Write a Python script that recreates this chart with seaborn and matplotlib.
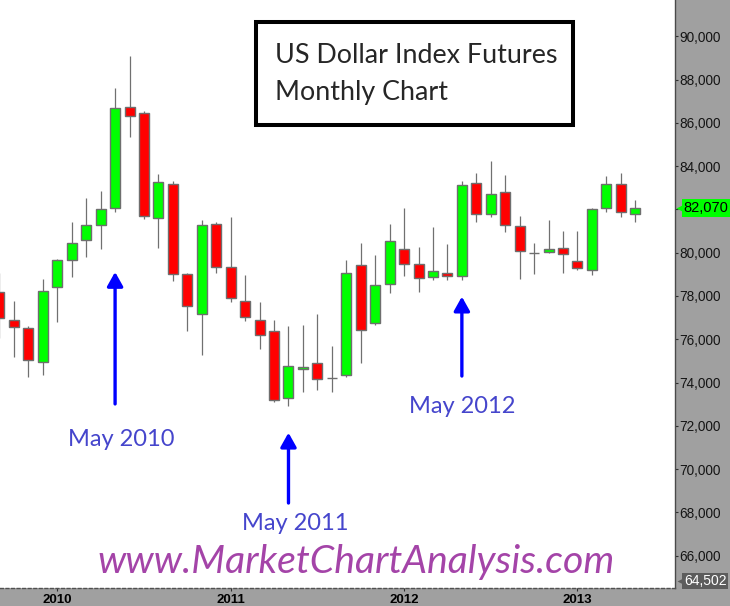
import numpy as np
import pandas as pd
import seaborn as sns
import matplotlib.pyplot as plt
from matplotlib import transforms
from matplotlib.patches import Rectangle

# 月份：2009年9月 ~ 2013年5月
months = pd.period_range('2009-09', '2013-05', freq='M')

opens = [78200, 76910, 76500, 74930, 78430, 79680, 80600, 81290, 82070, 86730,
         86450, 81610, 83180, 79030, 77190, 81340, 79360, 77790, 76910, 76360,
         73270, 74610, 74890, 74210, 74330, 79450, 76730, 78570, 80190, 79490,
         78900, 79080, 78940, 83230, 81800, 82810, 81250, 80010, 80050, 80230,
         79630, 79220, 82070, 83180, 81800]
highs = [79080, 77760, 76590, 78800, 79720, 81430, 82540, 82860, 87600, 89080,
         86540, 83640, 83320, 79080, 81520, 81430, 81670, 78990, 77700, 76910,
         76590, 76650, 77190, 75670, 79680, 80460, 79910, 81340, 82070, 80280,
         81200, 80420, 83320, 83690, 84240, 83600, 81710, 80460, 81520, 81010,
         81010, 82070, 83550, 83690, 82440]
lows = [76080, 75160, 74250, 74350, 76790, 78860, 79780, 80150, 81900, 85360,
        81580, 80200, 78680, 76370, 75270, 79050, 77710, 76840, 75550, 73100,
        72920, 73560, 73660, 73560, 74240, 74900, 76650, 78130, 78910, 78170,
        78720, 78720, 78720, 81440, 81670, 80980, 78770, 79000, 79970, 79050,
        79190, 78960, 81860, 81670, 81410]
closes = [76960, 76550, 75020, 78250, 79680, 80460, 81290, 82030, 86680, 86310,
          81710, 83270, 79030, 77560, 81290, 79360, 77930, 77010, 76180, 73180,
          74750, 74700, 74150, 74210, 79080, 76410, 78530, 80550, 79490, 78850,
          79170, 78940, 83130, 81800, 82720, 81290, 80090, 80010, 80190, 79960,
          79310, 82030, 83180, 81890, 82070]

# 箭头标注：月份序号、箭头顶端、箭尾、文字基线
arrow_idx = [8, 20, 32]
arrow_tip = [79110, 71680, 77970]
arrow_tail = [73010, 68430, 74300]
label_base = [71070, 67190, 72590]
label_dx = [0.4, 0.45, 0.0]

y_low, y_high = 64502, 91682
y_ticks = list(range(66000, 90001, 2000))

df = pd.DataFrame({'open': opens, 'high': highs, 'low': lows, 'close': closes})
df['pos'] = np.arange(len(df))
df['up'] = df['close'] >= df['open']

sns.set_style('white')
plt.rcParams['font.family'] = ['Liberation Sans', 'DejaVu Sans']

fig = plt.figure(figsize=(7.3, 6.06), dpi=100, facecolor='#a0a0a0')
ax = fig.add_axes([0, 18 / 606, 675 / 730, 588 / 606])
ax.set_facecolor('white')

# 影线
ax.vlines(df['pos'], df['low'], df['high'], color='#707070', lw=0.9, zorder=1)
# 实体
body_colors = np.where(df['up'], '#00ff00', '#ff0000')
ax.bar(df['pos'], (df['close'] - df['open']).abs(),
       bottom=df[['open', 'close']].min(axis=1), width=0.69,
       color=body_colors, edgecolor='#6e6e6e', linewidth=1.0, zorder=2)

ax.set_xlim(0.035, 46.75)
ax.set_ylim(y_low, y_high)

# 年份刻度
jan_idx = [i for i, m in enumerate(months) if m.month == 1]
ax.set_xticks(jan_idx)
ax.set_xticklabels([str(months[i].year) for i in jan_idx], fontsize=9.5, fontweight='bold')
ax.tick_params(axis='x', direction='out', length=2.2, width=0.8, color='#303030',
               pad=2.3, bottom=True, labelcolor='black')

ax.yaxis.tick_right()
ax.set_yticks(y_ticks)
ax.set_yticklabels(['' if v == 82000 else f'{v:,}' for v in y_ticks], fontsize=9.8)
ax.tick_params(axis='y', direction='out', length=2.2, width=0.8, color='#303030',
               pad=1.2, right=True, labelcolor='#151515')

for side in ['left', 'top']:
    ax.spines[side].set_visible(False)
ax.spines['right'].set_color('#4a4a4a')
ax.spines['right'].set_linewidth(1.0)
ax.spines['bottom'].set_color('#505050')
ax.spines['bottom'].set_linewidth(1.0)
ax.spines['bottom'].set_linestyle((0, (2, 2)))

# 标签框
trans = transforms.blended_transform_factory(ax.transAxes, ax.transData)
last_close = closes[-1]
ax.plot([1.0126], [last_close], marker='<', ms=11, color='#00ff00', mec='none',
        transform=trans, clip_on=False, zorder=5)
ax.text(1.013, last_close, f'{last_close:,}', transform=trans, va='center', ha='left',
        fontsize=10.5, color='black', clip_on=False, zorder=6,
        bbox=dict(boxstyle='square,pad=0.12', fc='#00ff00', ec='none'))
ax.plot([1.0126], [0.012], marker='<', ms=10, color='#5c5c5c', mec='none',
        transform=ax.transAxes, clip_on=False, zorder=5)
ax.text(1.013, 0.012, f'{y_low:,}', transform=ax.transAxes, va='center', ha='left',
        fontsize=10, color='white', clip_on=False, zorder=6,
        bbox=dict(boxstyle='square,pad=0.1', fc='#5c5c5c', ec='none'))

# 标题框
ax.add_patch(Rectangle((0.3793, 0.7874), 0.4696, 0.1757, transform=ax.transAxes,
                       fc='white', ec='black', lw=2.9, zorder=4))
ax.text(0.4074, 0.8929, 'US Dollar Index Futures', transform=ax.transAxes,
        fontsize=19.4, family=['Lato', 'DejaVu Sans'], va='baseline', zorder=5)
ax.text(0.4074, 0.8299, 'Monthly Chart', transform=ax.transAxes,
        fontsize=19.4, family=['Lato', 'DejaVu Sans'], va='baseline', zorder=5)

# 箭头与文字
for i, tip, tail, base, dx in zip(arrow_idx, arrow_tip, arrow_tail, label_base, label_dx):
    ax.annotate('', xy=(i, tip), xytext=(i, tail),
                arrowprops=dict(arrowstyle='-|>,head_length=0.5,head_width=0.28',
                                color='#0000ff', lw=2.4,
                                mutation_scale=17, shrinkA=0, shrinkB=0))
    ax.text(i + dx, base, months[i].strftime('%b %Y'), ha='center', va='baseline',
            fontsize=17, family=['Lato', 'DejaVu Sans'], color='#4545cc')

# 水印
ax.text(0.5274, 0.0255, 'www.MarketChartAnalysis.com', transform=ax.transAxes,
        ha='center', va='baseline', fontsize=28.3, style='italic',
        family=['Lato', 'DejaVu Sans'], color='#a444a8', zorder=5)

fig.savefig('out.png', dpi=100, facecolor=fig.get_facecolor())
